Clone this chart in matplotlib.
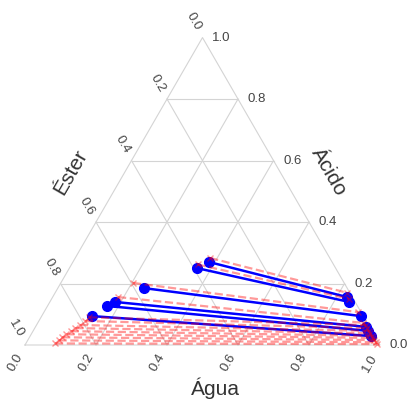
import numpy as np
import matplotlib.pyplot as plt

plt.rcParams['font.family'] = ['Liberation Sans', 'DejaVu Sans']

# experimental tie lines (organic phase -> aqueous phase), fractions of agua / acido
exp_org_agua = [0.383, 0.360, 0.243, 0.184, 0.168, 0.142]
exp_org_acido = [0.270, 0.250, 0.185, 0.140, 0.127, 0.094]
exp_aq_agua = [0.829, 0.843, 0.899, 0.931, 0.943, 0.960]
exp_aq_acido = [0.156, 0.140, 0.094, 0.059, 0.046, 0.029]

# calculated tie lines
calc_org_agua = [0.380, 0.355, 0.203, 0.184, 0.136, 0.130, 0.122, 0.114,
                 0.106, 0.099, 0.092, 0.087, 0.082]
calc_org_acido = [0.283, 0.262, 0.202, 0.156, 0.090, 0.078, 0.065, 0.055,
                  0.045, 0.035, 0.025, 0.015, 0.005]
calc_aq_agua = [0.822, 0.838, 0.884, 0.915, 0.927, 0.937, 0.946, 0.954,
                0.962, 0.969, 0.976, 0.983, 0.989]
calc_aq_acido = [0.170, 0.150, 0.107, 0.072, 0.065, 0.055, 0.046, 0.038,
                 0.030, 0.023, 0.016, 0.009, 0.003]

ticks = [0.0, 0.2, 0.4, 0.6, 0.8, 1.0]
H = np.sqrt(3) / 2


def proj(a, c):
    a = np.asarray(a, dtype=float)
    c = np.asarray(c, dtype=float)
    return a + c / 2, c * H


fig = plt.figure(figsize=(4.09, 4.05), dpi=100)
ax = fig.add_axes([0, 0, 1, 1])
ax.set_xlim(-25 / 355, 384 / 355)
ax.set_ylim(-60 / 355, 345 / 355)
ax.set_aspect('equal')
ax.axis('off')

grid_kw = dict(color='#d4d4d4', lw=0.8, zorder=1)
# boundary
bx, by = proj([0, 1, 0, 0], [0, 0, 1, 0])
ax.plot(bx, by, **grid_kw)
for t in ticks[1:-1]:
    # constant acido
    x, y = proj([0, 1 - t], [t, t])
    ax.plot(x, y, **grid_kw)
    # constant agua
    x, y = proj([t, t], [0, 1 - t])
    ax.plot(x, y, **grid_kw)
    # constant ester
    x, y = proj([1 - t, 0], [0, 1 - t])
    ax.plot(x, y, **grid_kw)

tick_kw = dict(fontsize=9.5, color='#444444', ha='center', va='center')
for t in ticks:
    # bottom (agua)
    x, y = proj(t, 0)
    ax.text(x - 10 / 355, y - 18 / 355, f'{t:.1f}', rotation=60, **tick_kw)
    # right (acido)
    x, y = proj(1 - t, t)
    ax.text(x + 19 / 355, y, f'{t:.1f}', **tick_kw)
    # left (ester)
    x, y = proj(0, 1 - t)
    ax.text(x - 9 / 355, y + 16 / 355, f'{t:.1f}', rotation=-60, **tick_kw)

lab_kw = dict(fontsize=15, color='#333333', ha='center', va='center')
ax.text(0.535, -0.121, 'Água', **lab_kw)
ax.text(0.130, 0.487, 'Éster', rotation=60, **lab_kw)
ax.text(0.856, 0.487, 'Ácido', rotation=-60, **lab_kw)

for i in range(len(exp_org_agua)):
    x, y = proj([exp_org_agua[i], exp_aq_agua[i]],
                [exp_org_acido[i], exp_aq_acido[i]])
    ax.plot(x, y, color='blue', lw=1.8, marker='o', markersize=7, zorder=3)

for i in range(len(calc_org_agua)):
    x, y = proj([calc_org_agua[i], calc_aq_agua[i]],
                [calc_org_acido[i], calc_aq_acido[i]])
    ax.plot(x, y, color='red', lw=1.6, ls='--', marker='x', markersize=5,
            alpha=0.4, zorder=4)

fig.savefig('out.png', dpi=100)
